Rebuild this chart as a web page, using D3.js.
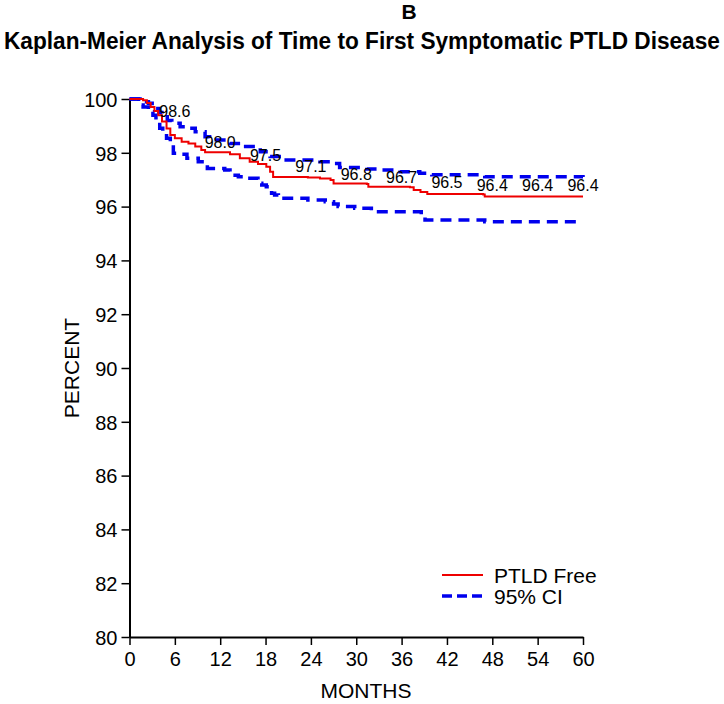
<!DOCTYPE html>
<html>
<head>
<meta charset="utf-8">
<script src="https://cdn.jsdelivr.net/npm/d3@7"></script>
<style>
  body { margin: 0; background: #fff; }
  text { font-family: "Liberation Sans", Arial, sans-serif; fill: #000; }
</style>
</head>
<body>
<div id="chart"></div>
<script>
const width = 724;
const height = 704;

// Kaplan-Meier estimate (PTLD free)
const kmMonths = [0, 1.8, 2.3, 2.8, 3.3, 3.8, 4.3, 4.9, 5.4, 6.0, 6.9, 7.8, 8.7, 9.5, 10.0, 13.3, 14.6, 15.9, 17.0, 18.1, 18.6, 19.0, 23.6, 25.2, 26.6, 27.0, 31.4, 31.6, 37.1, 37.6, 38.5, 39.4, 46.8, 47.0, 60];
const kmValues = [100, 99.95, 99.85, 99.7, 99.55, 99.4, 99.16, 98.9, 98.66, 98.54, 98.41, 98.35, 98.23, 98.1, 98.02, 97.95, 97.8, 97.67, 97.58, 97.48, 97.3, 97.1, 97.08, 97.04, 96.99, 96.86, 96.84, 96.74, 96.72, 96.62, 96.54, 96.47, 96.45, 96.38, 96.38];

// 95% CI bounds
const upperMonths = [0, 1.4, 2.0, 2.5, 3.0, 3.4, 3.9, 4.3, 5.0, 5.6, 6.7, 7.8, 8.7, 10.0, 10.6, 13.3, 15.0, 17.3, 18.6, 20.3, 25.2, 26.9, 27.8, 31.4, 32.9, 35.8, 38.4, 40, 45.7, 47, 60];
const upperValues = [100, 99.96, 99.9, 99.84, 99.75, 99.65, 99.5, 99.34, 99.2, 99.1, 98.97, 98.91, 98.78, 98.6, 98.48, 98.35, 98.23, 98.04, 97.86, 97.73, 97.67, 97.6, 97.45, 97.4, 97.36, 97.3, 97.24, 97.18, 97.18, 97.11, 97.1];
const lowerMonths = [0, 1.2, 1.8, 2.5, 3.1, 3.5, 4.0, 4.4, 4.9, 5.4, 5.8, 6.5, 7.6, 9.1, 10.3, 12.6, 13.3, 14.4, 15.5, 17.0, 17.5, 18.1, 18.8, 19.2, 19.7, 23.6, 25.9, 27.0, 27.6, 29.8, 31.1, 32.0, 37.3, 38.6, 39.1, 45.7, 47, 59.5];
const lowerValues = [100, 99.78, 99.7, 99.53, 99.4, 99.22, 98.91, 98.75, 98.54, 98.35, 97.98, 97.95, 97.8, 97.67, 97.42, 97.36, 97.17, 97.11, 97.05, 96.87, 96.8, 96.74, 96.5, 96.43, 96.31, 96.25, 96.18, 96.1, 96.0, 95.94, 95.94, 95.81, 95.81, 95.63, 95.5, 95.5, 95.44, 95.44];

// survival labels printed every 6 months
const labelMonths = [6, 12, 18, 24, 30, 36, 42, 48, 54, 60];
const labelValues = ["98.6", "98.0", "97.5", "97.1", "96.8", "96.7", "96.5", "96.4", "96.4", "96.4"];

const xTicks = [0, 6, 12, 18, 24, 30, 36, 42, 48, 54, 60];
const yTicks = [80, 82, 84, 86, 88, 90, 92, 94, 96, 98, 100];

const margin = { top: 99, right: 141, bottom: 67, left: 129.5 };

const svg = d3.select("#chart").append("svg")
    .attr("width", width)
    .attr("height", height);

const x = d3.scaleLinear().domain([0, 60]).range([margin.left, width - margin.right]);
const y = d3.scaleLinear().domain([80, 100]).range([height - margin.bottom, margin.top]);

const zip = (ms, vs) => ms.map((m, i) => ({ m, v: vs[i] }));

const line = d3.line()
    .x(d => x(d.m))
    .y(d => y(d.v))
    .curve(d3.curveStepAfter);

// titles
svg.append("text")
    .attr("x", 409).attr("y", 19)
    .attr("text-anchor", "middle")
    .style("font-size", "21px").style("font-weight", "bold")
    .text("B");

// condensed bold title, squeezed horizontally to fit the width
const title = svg.append("text")
    .attr("x", 0).attr("y", 0)
    .style("font-family", "'Liberation Sans Narrow', 'Liberation Sans', Arial, sans-serif")
    .style("font-size", "24px").style("font-weight", "bold")
    .text("Kaplan-Meier Analysis of Time to First Symptomatic  PTLD Disease");
const tw = title.node().getComputedTextLength();
title.attr("transform", `translate(4,49) scale(${Math.min(1, 716 / tw)},1)`);

// axes
const xAxis = svg.append("g")
    .attr("transform", `translate(0,${y(80)})`)
    .call(d3.axisBottom(x).tickValues(xTicks).tickSize(8).tickPadding(4).tickSizeOuter(0));
const yAxis = svg.append("g")
    .attr("transform", `translate(${x(0)},0)`)
    .call(d3.axisLeft(y).tickValues(yTicks).tickSize(8).tickPadding(4).tickSizeOuter(0));

[xAxis, yAxis].forEach(a => {
    a.select(".domain").attr("stroke", "#000").attr("stroke-width", 2);
    a.selectAll(".tick line").attr("stroke", "#000").attr("stroke-width", 1.5);
    a.selectAll(".tick text").style("font-size", "20px").style("font-family", "'Liberation Sans', Arial, sans-serif");
});
xAxis.selectAll(".tick text").attr("dy", "0.85em");
yAxis.selectAll(".tick text").attr("dy", "0.36em");

svg.append("text")
    .attr("transform", `translate(79,${(y(80) + y(100)) / 2}) rotate(-90)`)
    .attr("text-anchor", "middle")
    .style("font-size", "21px")
    .text("PERCENT");

svg.append("text")
    .attr("x", 366).attr("y", 698)
    .attr("text-anchor", "middle")
    .style("font-size", "21px")
    .text("MONTHS");

// curves
svg.append("path")
    .datum(zip(upperMonths, upperValues))
    .attr("d", line)
    .attr("fill", "none").attr("stroke", "#0000ee")
    .attr("stroke-width", 3.5).attr("stroke-dasharray", "11,7");

svg.append("path")
    .datum(zip(lowerMonths, lowerValues))
    .attr("d", line)
    .attr("fill", "none").attr("stroke", "#0000ee")
    .attr("stroke-width", 3.5).attr("stroke-dasharray", "11,7");

svg.append("path")
    .datum(zip(kmMonths, kmValues))
    .attr("d", line)
    .attr("fill", "none").attr("stroke", "#ee0000")
    .attr("stroke-width", 2);

// value labels
svg.append("g")
    .selectAll("text")
    .data(labelMonths.map((m, i) => ({ m, v: labelValues[i] })))
    .join("text")
    .attr("x", d => x(d.m))
    .attr("y", (d, i) => y(+d.v) - (i === 0 ? 25 : 11))
    .attr("dy", "0.36em")
    .attr("text-anchor", "middle")
    .style("font-size", "16px")
    .text(d => d.v);

// legend
const legend = svg.append("g");
legend.append("line")
    .attr("x1", 442).attr("x2", 483).attr("y1", 575).attr("y2", 575)
    .attr("stroke", "#ee0000").attr("stroke-width", 2);
legend.append("text")
    .attr("x", 494).attr("y", 583)
    .style("font-size", "21px")
    .text("PTLD Free");
legend.append("line")
    .attr("x1", 442).attr("x2", 483).attr("y1", 596).attr("y2", 596)
    .attr("stroke", "#0000ee").attr("stroke-width", 3.5).attr("stroke-dasharray", "10,5");
legend.append("text")
    .attr("x", 494).attr("y", 604)
    .style("font-size", "21px")
    .text("95% CI");
</script>
</body>
</html>
